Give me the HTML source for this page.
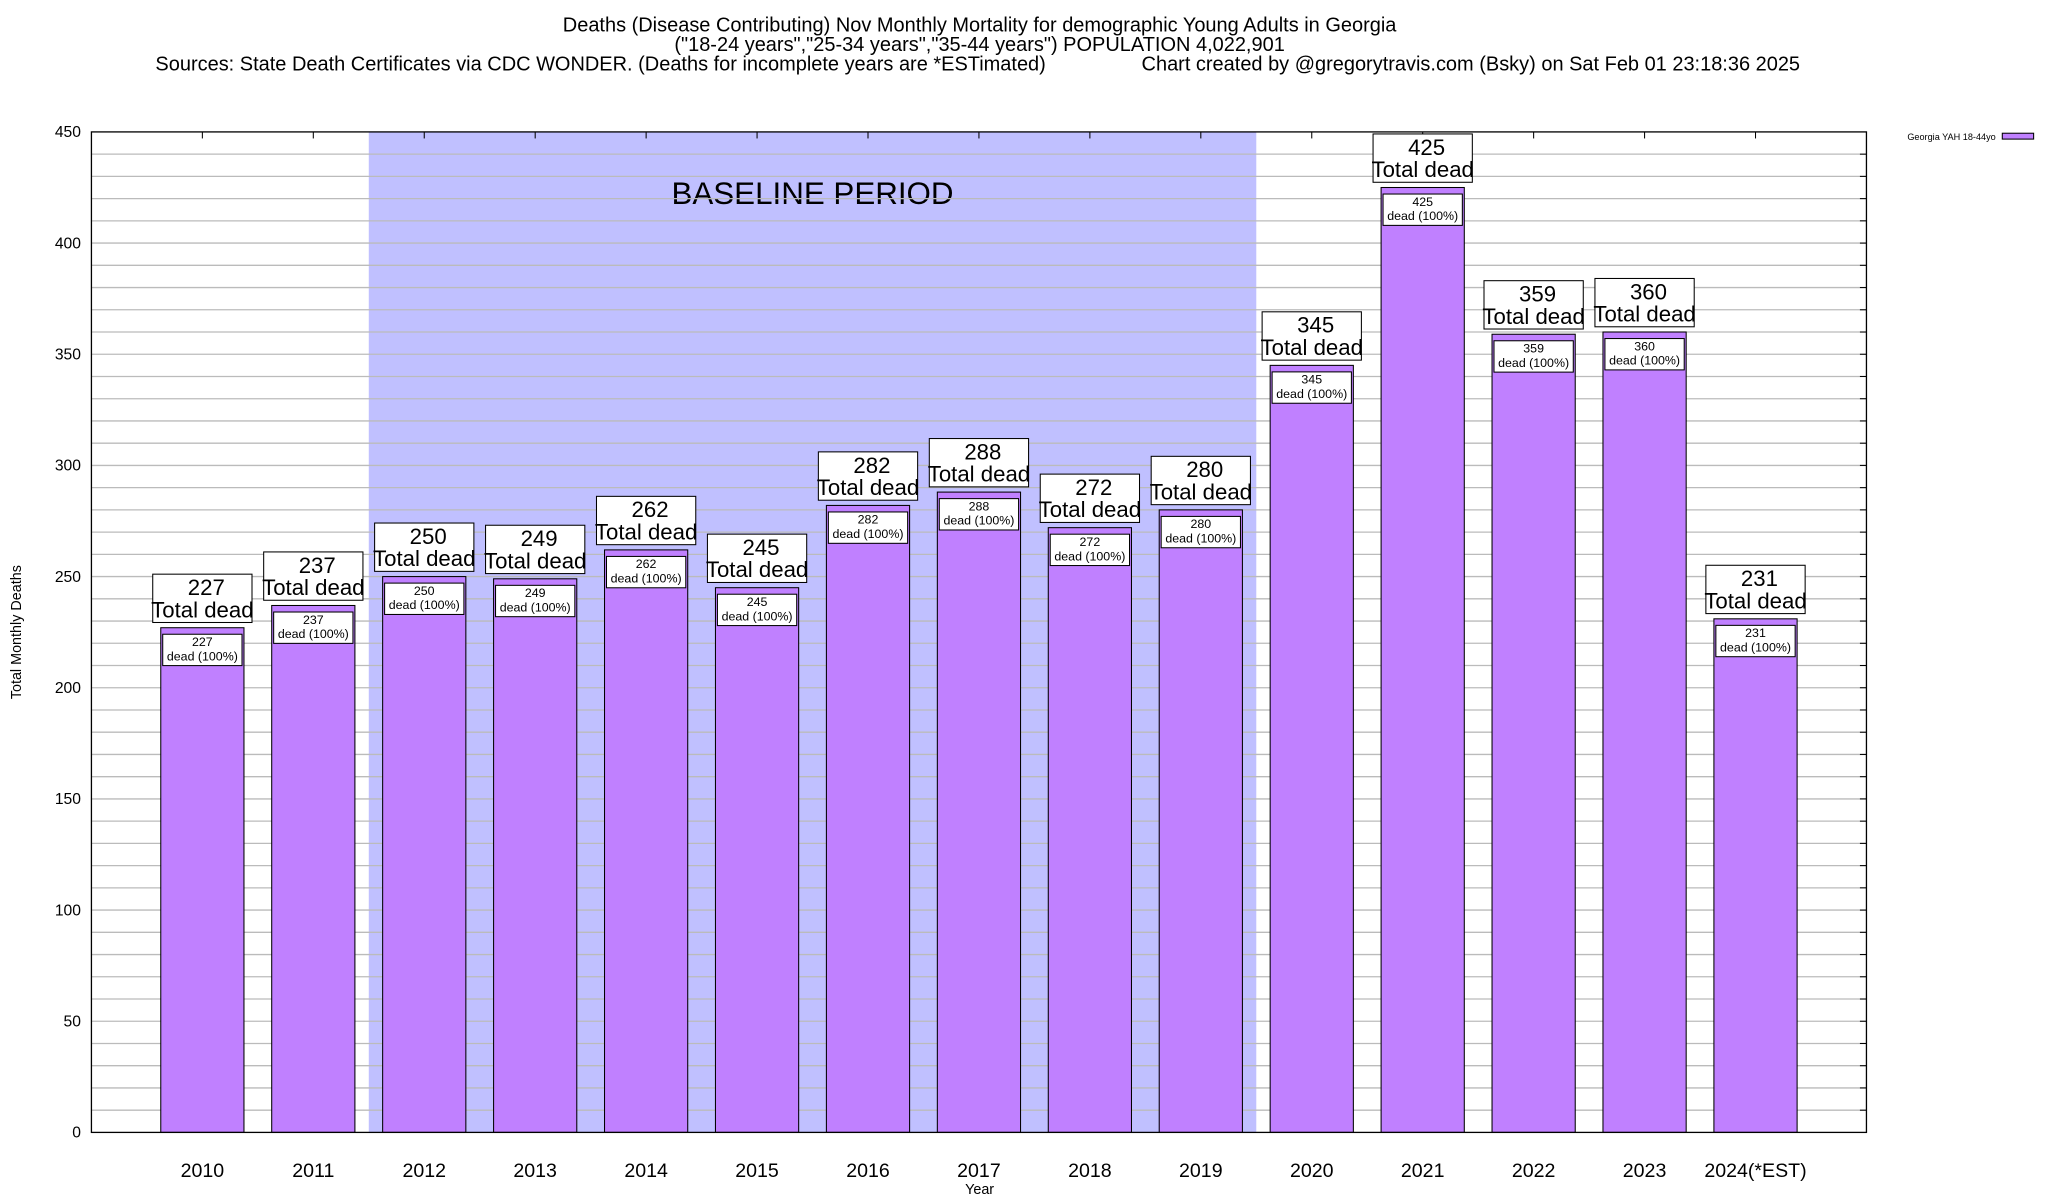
<!DOCTYPE html>
<html><head><meta charset="utf-8"><style>
html,body{margin:0;padding:0;background:#fff;}
svg{display:block;font-family:"Liberation Sans",sans-serif;}
</style></head><body>
<svg id="chart" width="2048" height="1200" viewBox="0 0 1568 918.75" xmlns="http://www.w3.org/2000/svg">
<g font-size="15.3" fill="#000">
<text x="750" y="24" text-anchor="middle">Deaths (Disease Contributing) Nov Monthly Mortality for demographic Young Adults in Georgia</text>
<text x="750" y="39" text-anchor="middle">("18-24 years","25-34 years","35-44 years") POPULATION 4,022,901</text>
<text x="119" y="54">Sources: State Death Certificates via CDC WONDER. (Deaths for incomplete years are *ESTimated)</text>
<text x="874" y="54">Chart created by @gregorytravis.com (Bsky) on Sat Feb 01 23:18:36 2025</text>
</g>
<g id="plot"></g>
<text transform="translate(16,484) rotate(-90)" text-anchor="middle" font-size="11">Total Monthly Deaths</text>
<text x="750" y="914" text-anchor="middle" font-size="11">Year</text>
<g>
<text x="1528" y="107" text-anchor="end" font-size="7">Georgia YAH 18-44yo</text>
<rect x="1533" y="102" width="24" height="4.5" fill="#c080ff" stroke="#000" stroke-width="0.8"/>
</g>
</svg>
<script>
const categories = ["2010","2011","2012","2013","2014","2015","2016","2017","2018","2019","2020","2021","2022","2023","2024(*EST)"];
const totals = [227,237,250,249,262,245,282,288,272,280,345,425,359,360,231];
const yTicks = [0,50,100,150,200,250,300,350,400,450];
const baselineRange = ["2012","2019"];

const NS="http://www.w3.org/2000/svg";
const L=70,R=1429,T=101,B=867,YMAX=450;
const slot=(R-L)/(categories.length+1);
function xPos(i){return L+(i+1)*slot;}
function yPos(v){return B-v*(B-T)/YMAX;}
const g=document.getElementById('plot');
function mk(tag,attrs,parent){const e=document.createElementNS(NS,tag);for(const k in attrs)e.setAttribute(k,attrs[k]);(parent||g).appendChild(e);return e;}

const bi0=categories.indexOf(baselineRange[0]),bi1=categories.indexOf(baselineRange[1]);
const shade=mk('rect',{x:xPos(bi0)-slot/2,y:T,width:(bi1-bi0+1)*slot,height:B-T,fill:'#c0c0ff'});


const bt=mk('text',{x:(xPos(bi0)+xPos(bi1))/2,y:156,'text-anchor':'middle','font-size':24});
bt.textContent='BASELINE PERIOD';



for(let v=10;v<YMAX;v+=10){
  const ln=mk('line',{x1:L,x2:R,y1:yPos(v),y2:yPos(v),stroke:'#bbb','stroke-width':1});
  
  
  mk('line',{x1:R-5,x2:R,y1:yPos(v),y2:yPos(v),stroke:'#000','stroke-width':0.8});
}
yTicks.forEach(v=>{
  const t=mk('text',{x:62,y:yPos(v)+4,'text-anchor':'end','font-size':12});
  t.textContent=v;
  
  
});

categories.forEach((c,i)=>{
  const cx=xPos(i),bw=slot*0.75,v=totals[i],yt=yPos(v);
  mk('line',{x1:cx,x2:cx,y1:T,y2:T+5,stroke:'#000','stroke-width':0.8});
  const bar=mk('rect',{x:cx-bw/2,y:yt,width:bw,height:B-yt,fill:'#c080ff',stroke:'#000','stroke-width':0.8});
  
  
  const ib=mk('rect',{x:cx-bw/2+1.5,y:yt+5,width:bw-3,height:24,fill:'#fff',stroke:'#000','stroke-width':0.8});
  
  
  const t1=mk('text',{x:cx,y:yt+14,'text-anchor':'middle','font-size':9.5});t1.textContent=v;
  const t2=mk('text',{x:cx,y:yt+25,'text-anchor':'middle','font-size':9.5});t2.textContent='dead (100%)';
  const bw2=76,bb=yt-4,btop=bb-37;
  const ob=mk('rect',{x:cx-bw2/2,y:btop,width:bw2,height:37,fill:'#fff',stroke:'#000','stroke-width':0.8});
  
  
  const o1=mk('text',{x:cx+3,y:btop+16,'text-anchor':'middle','font-size':17});o1.textContent=v;
  const o2=mk('text',{x:cx,y:btop+33,'text-anchor':'middle','font-size':17});o2.textContent='Total dead';
  const xl=mk('text',{x:cx,y:901,'text-anchor':'middle','font-size':15});
  xl.textContent=c;
  
  
});
const frame=mk('rect',{x:L,y:T,width:R-L,height:B-T,fill:'none',stroke:'#000','stroke-width':1});


</script>
</body></html>
